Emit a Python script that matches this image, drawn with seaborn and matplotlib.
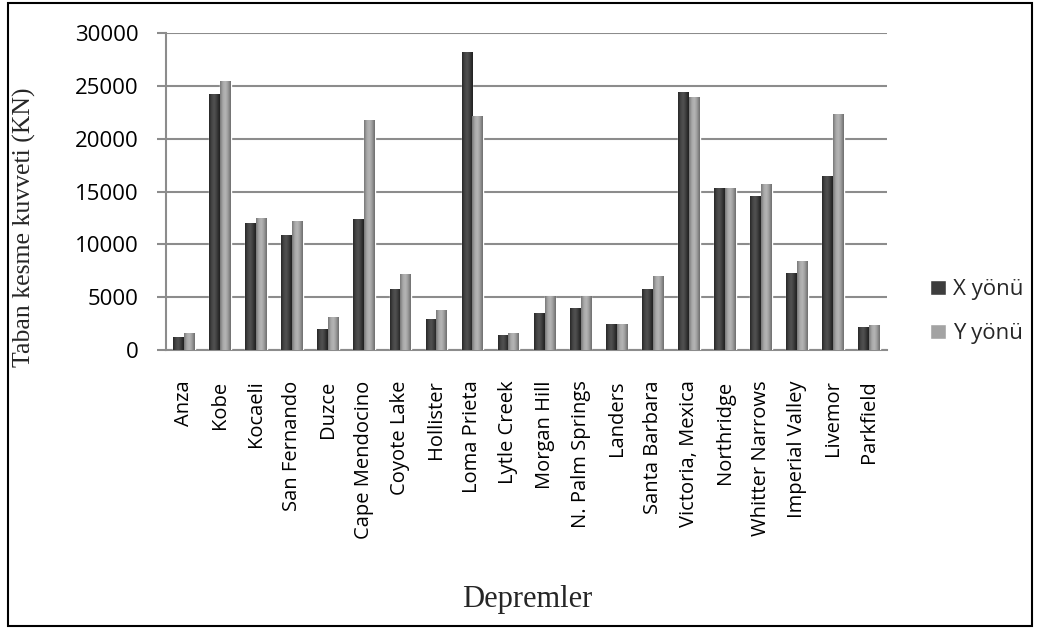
import matplotlib
matplotlib.use("Agg")
import matplotlib.pyplot as plt
import seaborn as sns
import pandas as pd
import numpy as np
from matplotlib.colors import LinearSegmentedColormap
from matplotlib.patches import Rectangle

# Earthquake records and base shear force (kN) in the two directions
categories = ["Anza", "Kobe", "Kocaeli", "San Fernando", "Duzce", "Cape Mendocino",
              "Coyote Lake", "Hollister", "Loma Prieta", "Lytle Creek", "Morgan Hill",
              "N. Palm Springs", "Landers", "Santa Barbara", "Victoria, Mexica",
              "Northridge", "Whitter Narrows", "Imperial Valley", "Livemor", "Parkfield"]
x_vals = [1200, 24200, 12000, 10900, 2000, 12400, 5750, 2950, 28200, 1400,
          3500, 4000, 2500, 5750, 24400, 15300, 14600, 7250, 16450, 2150]
y_vals = [1600, 25500, 12500, 12200, 3150, 21800, 7200, 3800, 22100, 1600,
          5100, 5100, 2500, 7000, 23950, 15300, 15700, 8400, 22300, 2350]
series = ["X yönü", "Y yönü"]
y_ticks = [0, 5000, 10000, 15000, 20000, 25000, 30000]

sns.set_style("white")
plt.rcParams['font.family'] = ['Open Sans', 'DejaVu Sans']

df = pd.DataFrame({
    "Deprem": categories * 2,
    "Kuvvet": x_vals + y_vals,
    "Yön": [series[0]] * len(categories) + [series[1]] * len(categories),
})

W, H = 1038, 630
fig = plt.figure(figsize=(W / 100, H / 100), dpi=100)
ax = fig.add_axes([166 / W, 1 - 350 / H, (887 - 166) / W, (350 - 33) / H])

grid_c = "#8c8c8c"
palette = {series[0]: "#3d3d3d", series[1]: "#a3a3a3"}
sns.barplot(data=df, x="Deprem", y="Kuvvet", hue="Yön", palette=palette,
            width=0.6, saturation=1, errorbar=None, ax=ax, zorder=3)

# Cylindrical shading across each bar
shades = [
    LinearSegmentedColormap.from_list("xs", ["#262626", "#464646", "#525252", "#3a3a3a", "#1f1f1f"]),
    LinearSegmentedColormap.from_list("ys", ["#767676", "#a8a8a8", "#b6b6b6", "#9a9a9a", "#6c6c6c"]),
]
xl, yl = ax.get_xlim(), (0, 30000)
grad = np.linspace(0, 1, 64).reshape(1, -1)
for idx, cont in enumerate(ax.containers):
    for bar in cont:
        x0, w, h = bar.get_x(), bar.get_width(), bar.get_height()
        im = ax.imshow(grad, cmap=shades[idx], aspect="auto",
                       extent=(x0, x0 + w, 0, h), zorder=4, interpolation="bicubic")
        im.set_clip_path(bar)
ax.set_xlim(xl)
ax.set_ylim(yl)

ax.set_yticks(y_ticks)
ax.set_yticklabels([str(v) for v in y_ticks])
ax.yaxis.grid(True, color=grid_c, lw=1.5, zorder=0)
ax.set_axisbelow(True)
for s in ("top", "right"):
    ax.spines[s].set_visible(False)
for s in ("left", "bottom"):
    ax.spines[s].set_color(grid_c)
    ax.spines[s].set_linewidth(1.5)
ax.tick_params(axis="y", length=6.5, width=1.5, color=grid_c, pad=13,
               labelsize=16, labelcolor="black", left=True)
ax.tick_params(axis="x", length=0, pad=22, labelsize=14.5, labelcolor="black")
for lab in ax.get_xticklabels():
    lab.set_rotation(90)
ax.set_xlabel("")
ax.set_ylabel("")

sns.move_legend(ax, loc="upper left", bbox_to_anchor=(930 / W, 1 - 279 / H),
                bbox_transform=fig.transFigure, frameon=False, title=None,
                fontsize=16, handlelength=0.72, handleheight=0.64,
                labelspacing=1.05, handletextpad=0.3, borderpad=0, borderaxespad=0)

fig.text(24 / W, 1 - 227 / H, "Taban kesme kuvveti (KN)", rotation=90,
         family="Liberation Serif", fontsize=18.5, ha="center", va="center")
fig.text(527 / W, 1 - 599 / H, "Depremler", family="Liberation Serif",
         fontsize=22, ha="center", va="center")

fig.patches.append(Rectangle((8 / W, 4 / H), (1032 - 8) / W, (627 - 4) / H,
                             transform=fig.transFigure, fill=False,
                             ec="black", lw=1.5))

fig.savefig("out.png", dpi=100)
